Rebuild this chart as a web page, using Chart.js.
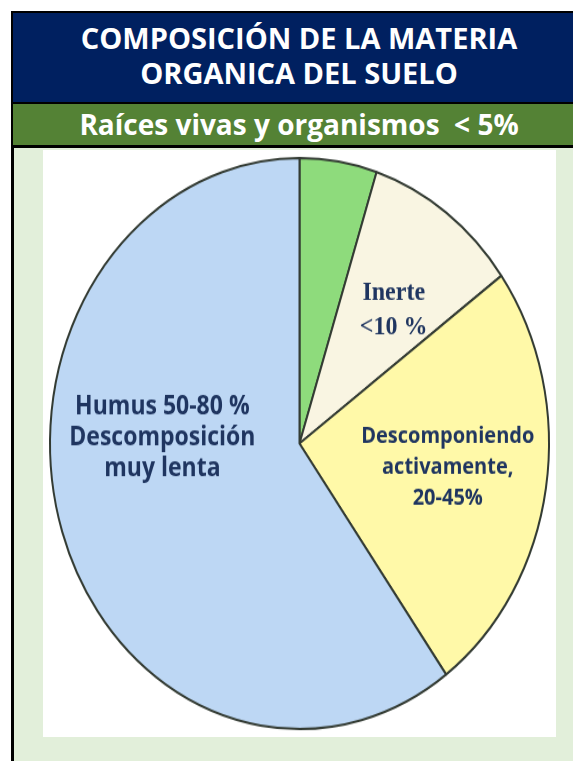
<!DOCTYPE html>
<html>
<head>
<meta charset="utf-8">
<script src="https://cdn.jsdelivr.net/npm/chart.js@4.4.1/dist/chart.umd.min.js"></script>
<style>
  body { margin: 0; width: 573px; height: 761px; overflow: hidden; position: relative; background: #fff; font-family: "Open Sans", sans-serif; }
  #frame { position: absolute; left: 11px; top: 11px; width: 600px; height: 800px; background: #000; }
  #head { position: absolute; left: 13px; top: 13px; width: 572px; height: 89px; background: #002060; color: #fff;
          font-weight: bold; font-size: 29px; line-height: 35px; text-align: center; box-sizing: border-box; padding-top: 7px; }
  #sub { position: absolute; left: 13px; top: 104px; width: 572px; height: 41px; background: #548235; color: #fff;
         font-weight: bold; font-size: 28px; line-height: 41px; text-align: center; white-space: pre; }
  #body { position: absolute; left: 14px; top: 148px; width: 600px; height: 700px; background: #e2efda; }
  #card { position: absolute; left: 43px; top: 150px; width: 513px; height: 587px; background: #fff; }
  #chart { position: absolute; left: 43px; top: 150px; }
</style>
</head>
<body>
<div id="frame"></div>
<div id="head">COMPOSICIÓN DE LA MATERIA<br>ORGANICA DEL SUELO</div>
<div id="sub">Raíces vivas y organismos  &lt; 5%</div>
<div id="body"></div>
<div id="card"></div>
<!-- drawn square, shown stretched tall like the original picture -->
<canvas id="chart" width="513" height="513" style="width:513px;height:587px"></canvas>
<script>
document.addEventListener("DOMContentLoaded", function() {
  var categories = ["Raíces vivas y organismos", "Inerte", "Descomponiendo activamente", "Humus"];
  var shares = [5, 10, 25, 60];
  var sliceColors = ["#8edb7c", "#f9f5e2", "#fff9a8", "#bdd7f4"];

  // text written inside the slices
  var sliceTexts = [
    null,
    ["Inerte", "<10 %"],
    ["Descomponiendo", "activamente,", "20-45%"],
    ["Humus 50-80 %", "Descomposición", "muy lenta"]
  ];

  // where each text sits: angle from top (deg) and share of the radius
  var textSpots = [null, { angle: 39, dist: 0.6 }, { angle: 98, dist: 0.6 }, { angle: 272, dist: 0.55 }];

  var sliceLabels = {
    id: "sliceLabels",
    afterDatasetsDraw: function(chart) {
      var ctx = chart.ctx;
      var arcs = chart.getDatasetMeta(0).data;
      ctx.save();
      ctx.textAlign = "center";
      ctx.textBaseline = "middle";
      ctx.fillStyle = "#1f3560";
      arcs.forEach(function(arc, i) {
        if (!sliceTexts[i]) return;
        var a = textSpots[i].angle * Math.PI / 180;
        var r = arc.outerRadius * textSpots[i].dist;
        var x = arc.x + r * Math.sin(a);
        var y = arc.y - r * Math.cos(a);
        var lines = sliceTexts[i];
        var lh = i == 1 ? 30 : 27;
        if (i == 1) ctx.font = "bold 24px 'Liberation Serif'";
        else if (i == 2) ctx.font = "bold 20px 'Open Sans'";
        else ctx.font = "bold 23px 'Open Sans'";
        lines.forEach(function(t, k) {
          ctx.fillText(t, x, y + (k - (lines.length - 1) / 2) * lh);
        });
      });
      ctx.restore();
    }
  };

  new Chart(document.getElementById("chart").getContext("2d"), {
    type: "pie",
    data: {
      labels: categories,
      datasets: [{
        data: shares,
        backgroundColor: sliceColors,
        borderColor: "#333b33",
        borderWidth: 2
      }]
    },
    options: {
      responsive: false,
      animation: false,
      layout: { padding: 6 },
      plugins: {
        legend: { display: false },
        tooltip: { enabled: false }
      }
    },
    plugins: [sliceLabels]
  });
});
</script>
</body>
</html>
